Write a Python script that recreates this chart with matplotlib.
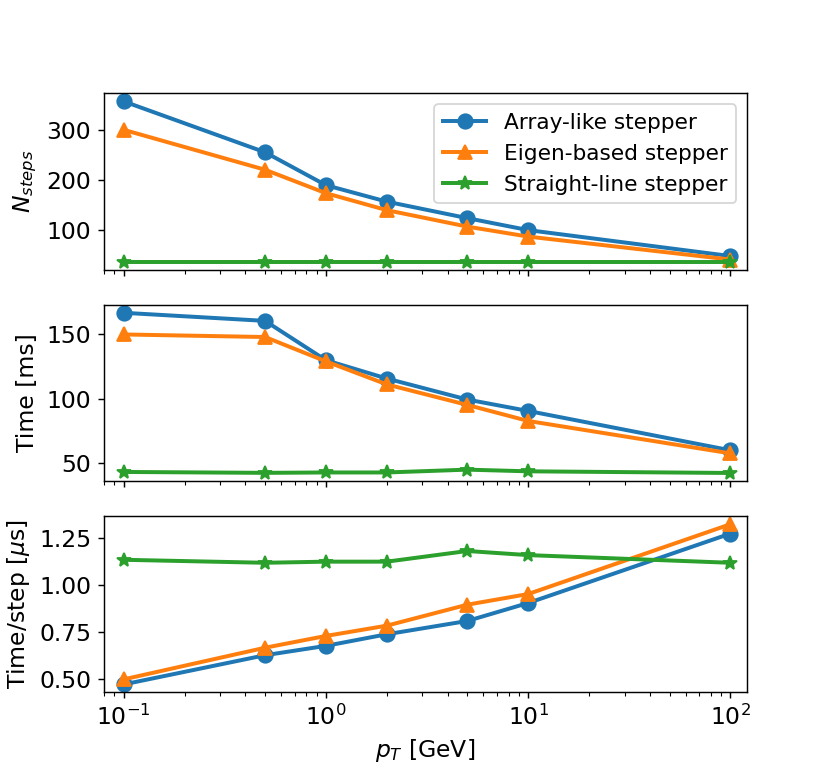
import matplotlib
matplotlib.use("Agg")
import matplotlib.pyplot as plt

pt = [0.1, 0.5, 1, 2, 5, 10, 100]

labels = ["Array-like stepper", "Eigen-based stepper", "Straight-line stepper"]

nsteps_array = [358, 256, 190, 157, 124, 100, 48]
nsteps_eigen = [301, 221, 174, 140, 107, 87, 41]
nsteps_straight = [37, 37, 37, 37, 37, 37, 37]

time_array = [166.9, 160.6, 129.9, 115.6, 99.2, 90.3, 59.6]
time_eigen = [150.0, 148.0, 129.0, 111.0, 95.0, 82.5, 57.2]
time_straight = [42.7, 42.0, 42.3, 42.3, 44.5, 43.2, 41.9]

step_array = [0.469, 0.625, 0.675, 0.737, 0.808, 0.904, 1.275]
step_eigen = [0.496, 0.665, 0.728, 0.783, 0.895, 0.952, 1.325]
step_straight = [1.135, 1.119, 1.125, 1.125, 1.182, 1.160, 1.119]
step_ticks = [0.5, 0.75, 1.0, 1.25]

plt.rcParams["font.size"] = 13

fig, axes = plt.subplots(3, 1, sharex=True, figsize=(830 / 130, 778 / 130), dpi=130)

def draw(ax, a, e, s):
    ax.plot(pt, a, marker="o", lw=2.2, ms=8, label=labels[0])
    ax.plot(pt, e, marker="^", lw=2.2, ms=8, label=labels[1])
    ax.plot(pt, s, marker="*", lw=2.2, ms=8, label=labels[2])
    ax.set_xscale("log")

draw(axes[0], nsteps_array, nsteps_eigen, nsteps_straight)
draw(axes[1], time_array, time_eigen, time_straight)
draw(axes[2], step_array, step_eigen, step_straight)

axes[2].set_xlim(0.0797, 120.8)
axes[2].set_yticks(step_ticks)
axes[2].set_yticklabels(["0.50", "0.75", "1.00", "1.25"])

axes[0].set_ylabel("$N_{steps}$")
axes[1].set_ylabel("Time [ms]")
axes[2].set_ylabel("Time/step [$\\mu$s]")
axes[2].set_xlabel("$p_T$ [GeV]")
axes[0].legend(loc="upper right", fontsize=12)

fig.savefig("out.png", dpi=130)
